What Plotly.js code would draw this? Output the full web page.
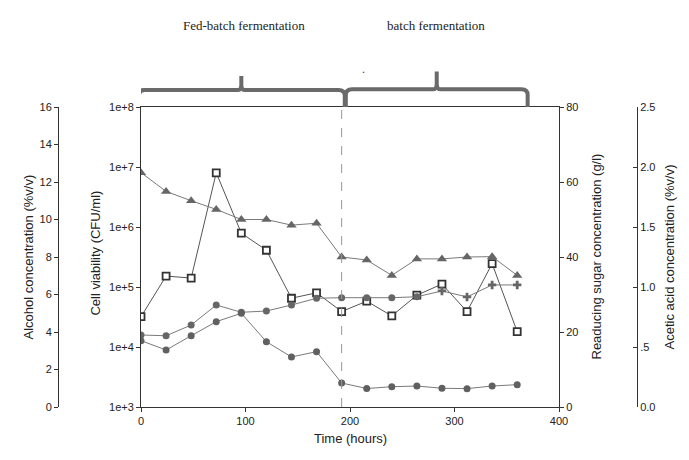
<!DOCTYPE html>
<html>
<head>
<meta charset="utf-8">
<script src="https://cdn.plot.ly/plotly-3.0.1.min.js"></script>
<style>html,body{margin:0;padding:0;background:#fff;}#chart{width:689px;height:460px;}</style>
</head>
<body>
<div id="chart"></div>
<script>
// Time points (hours)
const timeHours = [0, 24, 48, 72, 96, 120, 144, 168, 192, 216, 240, 264, 288, 312, 336, 360];
// Cell viability (CFU/ml) - open squares
const cellViability = [3.2e4, 1.52e5, 1.41e5, 8.0e6, 7.9e5, 4.1e5, 6.5e4, 8.0e4, 3.9e4, 5.8e4, 3.3e4, 7.3e4, 1.12e5, 3.9e4, 2.45e5, 1.8e4];
// Reducing sugar concentration (g/l) - triangles
const reducingSugar = [62.5, 57.5, 55.0, 52.7, 50.0, 50.0, 48.5, 49.0, 40.0, 39.2, 35.1, 39.5, 39.5, 40.0, 40.1, 35.1];
// Alcohol concentration (%v/v) - circles / crosses
const alcohol = [3.84, 3.80, 4.37, 5.44, 5.05, 5.12, 5.44, 5.80, 5.83, 5.83, 5.83, 5.88, 6.19, 5.87, 6.51, 6.51];
const alcoholSymbols = ['circle','circle','circle','circle','circle','circle','circle','circle','circle','circle','circle','circle','cross','cross','cross','cross'];
// Acetic acid concentration (%v/v) - circles
const aceticAcid = [0.553, 0.475, 0.594, 0.711, 0.781, 0.544, 0.417, 0.461, 0.200, 0.154, 0.169, 0.175, 0.156, 0.153, 0.175, 0.186];

const cellTickVals = [1e3, 1e4, 1e5, 1e6, 1e7, 1e8];
const cellTickText = ['1e+3', '1e+4', '1e+5', '1e+6', '1e+7', '1e+8'];
const aceticTickVals = [0, 0.5, 1.0, 1.5, 2.0, 2.5];
const aceticTickText = ['0.0', '.5', '1.0', '1.5', '2.0', '2.5'];
const phaseSwitch = 192;

const W = 689;
const lineCol = '#7a7a7a';
const font = {family: 'Liberation Sans, Arial, sans-serif', size: 11, color: '#222'};

const traces = [
  {x: timeHours, y: reducingSugar, yaxis: 'y2', mode: 'lines+markers',
   line: {color: lineCol, width: 1}, marker: {symbol: 'triangle-up', size: 9, color: '#666'}},
  {x: timeHours, y: alcohol, yaxis: 'y3', mode: 'lines+markers',
   line: {color: lineCol, width: 1}, marker: {symbol: alcoholSymbols, size: 7, color: '#666'}},
  {x: timeHours, y: aceticAcid, yaxis: 'y4', mode: 'lines+markers',
   line: {color: lineCol, width: 1}, marker: {symbol: 'circle', size: 7, color: '#606060'}},
  {x: timeHours, y: cellViability, yaxis: 'y', mode: 'lines+markers',
   line: {color: '#555', width: 1}, marker: {symbol: 'square', size: 7, color: '#fff', line: {color: '#333', width: 1.8}}}
];

const axLine = {showline: true, linecolor: '#333', linewidth: 1, zeroline: false, showgrid: false, tickfont: font, ticklen: 4, tickcolor: '#333'};

const layout = {
  width: 689, height: 460,
  margin: {l: 0, r: 0, t: 107, b: 53},
  paper_bgcolor: '#fff', plot_bgcolor: '#fff',
  showlegend: false,
  font: font,
  xaxis: Object.assign({}, axLine, {domain: [141 / W, 559 / W], range: [0, 400], tickvals: [0, 100, 200, 300, 400], ticks: 'outside', mirror: true}),
  yaxis: Object.assign({}, axLine, {type: 'log', range: [3, 8], tickvals: cellTickVals, ticktext: cellTickText, ticks: 'outside', anchor: 'x', side: 'left'}),
  yaxis2: Object.assign({}, axLine, {range: [0, 80], dtick: 20, ticks: 'outside', overlaying: 'y', anchor: 'x', side: 'right'}),
  yaxis3: Object.assign({}, axLine, {range: [0, 16], dtick: 2, ticks: 'outside', overlaying: 'y', anchor: 'free', position: 58 / W, side: 'left'}),
  yaxis4: Object.assign({}, axLine, {range: [0, 2.5], tickvals: aceticTickVals, ticktext: aceticTickText, ticks: 'inside', overlaying: 'y', anchor: 'free', position: 637 / W, side: 'right'}),
  shapes: [
    {type: 'line', xref: 'x', yref: 'paper', x0: phaseSwitch, x1: phaseSwitch, y0: 0, y1: 1,
     line: {color: '#999', width: 1, dash: 'dash'}},
    {type: 'path', xref: 'x', yref: 'paper', line: {color: '#6a6a6a', width: 4},
     path: 'M -2,1.0 L -2,1.038 Q -2,1.057 3,1.057 L 93,1.057 Q 96,1.057 96,1.075 L 96,1.103 M 96,1.075 Q 96,1.057 99,1.057 L 189,1.057 Q 195,1.057 195,1.038 L 195,1.0'},
    {type: 'path', xref: 'x', yref: 'paper', line: {color: '#6a6a6a', width: 4},
     path: 'M 196,1.0 L 196,1.04 Q 196,1.059 202,1.059 L 280,1.059 Q 283,1.059 283,1.078 L 283,1.118 M 283,1.078 Q 283,1.059 286,1.059 L 364,1.059 Q 370,1.059 370,1.04 L 370,1.0'}
  ],
  annotations: [
    {text: 'Fed-batch fermentation', xref: 'paper', yref: 'paper', x: 244 / W, y: (407 - 16) / 300, showarrow: false,
     font: {family: 'Liberation Serif, Times New Roman, serif', size: 13, color: '#222'}},
    {text: 'batch fermentation', xref: 'paper', yref: 'paper', x: 436 / W, y: (407 - 16) / 300, showarrow: false,
     font: {family: 'Liberation Serif, Times New Roman, serif', size: 13, color: '#222'}},
    {text: '.', xref: 'paper', yref: 'paper', x: 363 / W, y: (407 - 60) / 300, showarrow: false,
     font: {family: 'Liberation Serif, serif', size: 12, color: '#444'}},
    {text: 'Alcohol concentration (%v/v)', xref: 'paper', yref: 'paper', x: 18 / W, y: 0.5, textangle: -90, showarrow: false,
     font: {family: font.family, size: 13, color: '#222'}},
    {text: 'Cell viability (CFU/ml)', xref: 'paper', yref: 'paper', x: 86 / W, y: 0.513, textangle: -90, showarrow: false,
     font: {family: font.family, size: 13, color: '#222'}},
    {text: 'Readucing sugar concentration (g/l)', xref: 'paper', yref: 'paper', x: 605 / W, y: 0.5, textangle: -90, showarrow: false,
     font: {family: font.family, size: 13, color: '#222'}},
    {text: 'Acetic acid concentration (%v/v)', xref: 'paper', yref: 'paper', x: 678 / W, y: 0.5, textangle: -90, showarrow: false,
     font: {family: font.family, size: 13, color: '#222'}},
    {text: 'Time (hours)', xref: 'x', yref: 'paper', x: 200, y: (407 - 448) / 300, showarrow: false,
     font: {family: font.family, size: 13, color: '#222'}}
  ]
};

Plotly.newPlot('chart', traces, layout, {staticPlot: true, displayModeBar: false});
</script>
</body>
</html>
